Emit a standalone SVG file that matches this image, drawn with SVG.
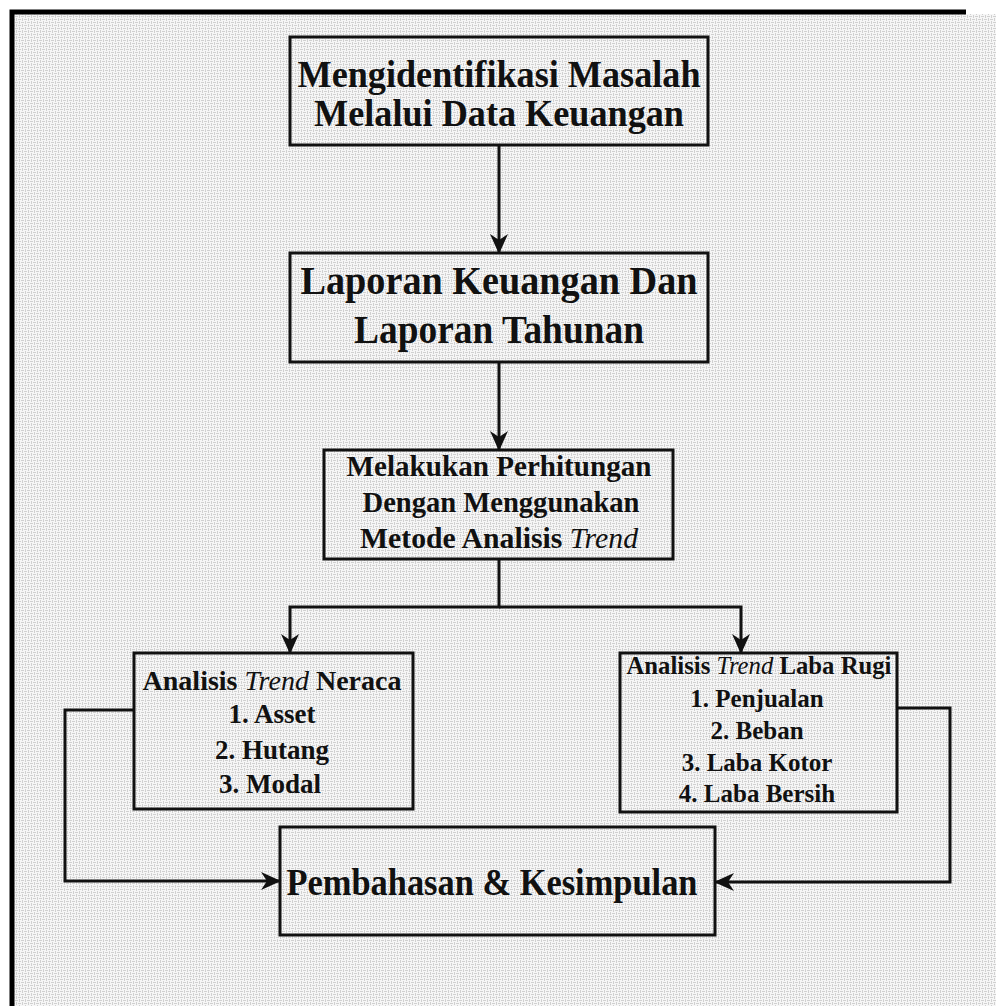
<svg xmlns="http://www.w3.org/2000/svg" width="996" height="1006" viewBox="0 0 996 1006">
<style>
.box{fill:none;stroke:#111;stroke-width:3}
.t{font-family:"Liberation Serif","Times New Roman",serif;font-weight:bold;fill:#111;text-anchor:middle}
.i{font-style:italic;font-weight:normal}
.c{fill:none;stroke:#111;stroke-width:3}
</style>
<defs>
<pattern id="tex" width="6" height="6" patternUnits="userSpaceOnUse">
<rect width="6" height="6" fill="#f6f6f6"/>
<path d="M0 1.5h3M3 4.5h3M1.5 3v3M4.5 0v3" stroke="#d0d0d0" stroke-width="1"/>
</pattern>
<marker id="arr" viewBox="0 0 20 20" refX="19" refY="10" markerWidth="20" markerHeight="20" markerUnits="userSpaceOnUse" orient="auto">
<path d="M0,1 L20,10 L0,19 L6,10 Z" fill="#111"/>
</marker>
</defs>
<rect width="996" height="1006" fill="#ffffff"/>
<rect x="12" y="14" width="984" height="992" fill="url(#tex)"/>
<path d="M12,1006 V12 H966" fill="none" stroke="#000" stroke-width="5"/>

<g id="connectors">
<path class="c" d="M499,145 V253" marker-end="url(#arr)"/>
<path class="c" d="M499,362 V450" marker-end="url(#arr)"/>
<path class="c" d="M499,559 V607 H290 V653" marker-end="url(#arr)"/>
<path class="c" d="M499,607 H741 V653" marker-end="url(#arr)"/>
<path class="c" d="M134,710 H65 V881 H280" marker-end="url(#arr)"/>
<path class="c" d="M897,708 H950 V882 H715" marker-end="url(#arr)"/>
</g>

<g id="n1">
<rect class="box" x="290" y="37" width="418" height="108"/>
<text class="t" x="499" y="87" font-size="37" textLength="403" lengthAdjust="spacingAndGlyphs">Mengidentifikasi Masalah</text>
<text class="t" x="499" y="126" font-size="37" textLength="370" lengthAdjust="spacingAndGlyphs">Melalui Data Keuangan</text>
</g>

<g id="n2">
<rect class="box" x="290" y="253" width="418" height="109"/>
<text class="t" x="499" y="294" font-size="41" textLength="397" lengthAdjust="spacingAndGlyphs">Laporan Keuangan Dan</text>
<text class="t" x="499" y="343" font-size="41" textLength="290" lengthAdjust="spacingAndGlyphs">Laporan Tahunan</text>
</g>

<g id="n3">
<rect class="box" x="324" y="450" width="349" height="109"/>
<text class="t" x="499" y="476" font-size="29" textLength="305" lengthAdjust="spacingAndGlyphs">Melakukan Perhitungan</text>
<text class="t" x="501" y="512" font-size="29" textLength="277" lengthAdjust="spacingAndGlyphs">Dengan Menggunakan</text>
<text class="t" x="499" y="548" font-size="29" textLength="278" lengthAdjust="spacingAndGlyphs">Metode Analisis <tspan class="i">Trend</tspan></text>
</g>

<g id="n4">
<rect class="box" x="134" y="653" width="279" height="156"/>
<text class="t" x="272" y="690" font-size="27" textLength="259" lengthAdjust="spacingAndGlyphs">Analisis <tspan class="i">Trend</tspan> Neraca</text>
<text class="t" x="272" y="723" font-size="27">1. Asset</text>
<text class="t" x="272" y="759" font-size="27">2. Hutang</text>
<text class="t" x="270" y="793" font-size="27">3. Modal</text>
</g>

<g id="n5">
<rect class="box" x="620" y="653" width="277" height="159"/>
<text class="t" x="759" y="674" font-size="25" textLength="265" lengthAdjust="spacingAndGlyphs">Analisis <tspan class="i">Trend</tspan> Laba Rugi</text>
<text class="t" x="757" y="707" font-size="25">1. Penjualan</text>
<text class="t" x="757" y="739" font-size="25">2. Beban</text>
<text class="t" x="757" y="771" font-size="25">3. Laba Kotor</text>
<text class="t" x="757" y="802" font-size="25">4. Laba Bersih</text>
</g>

<g id="n6">
<rect class="box" x="280" y="827" width="435" height="108"/>
<text class="t" x="492" y="895" font-size="37" textLength="411" lengthAdjust="spacingAndGlyphs">Pembahasan &amp; Kesimpulan</text>
</g>
</svg>
